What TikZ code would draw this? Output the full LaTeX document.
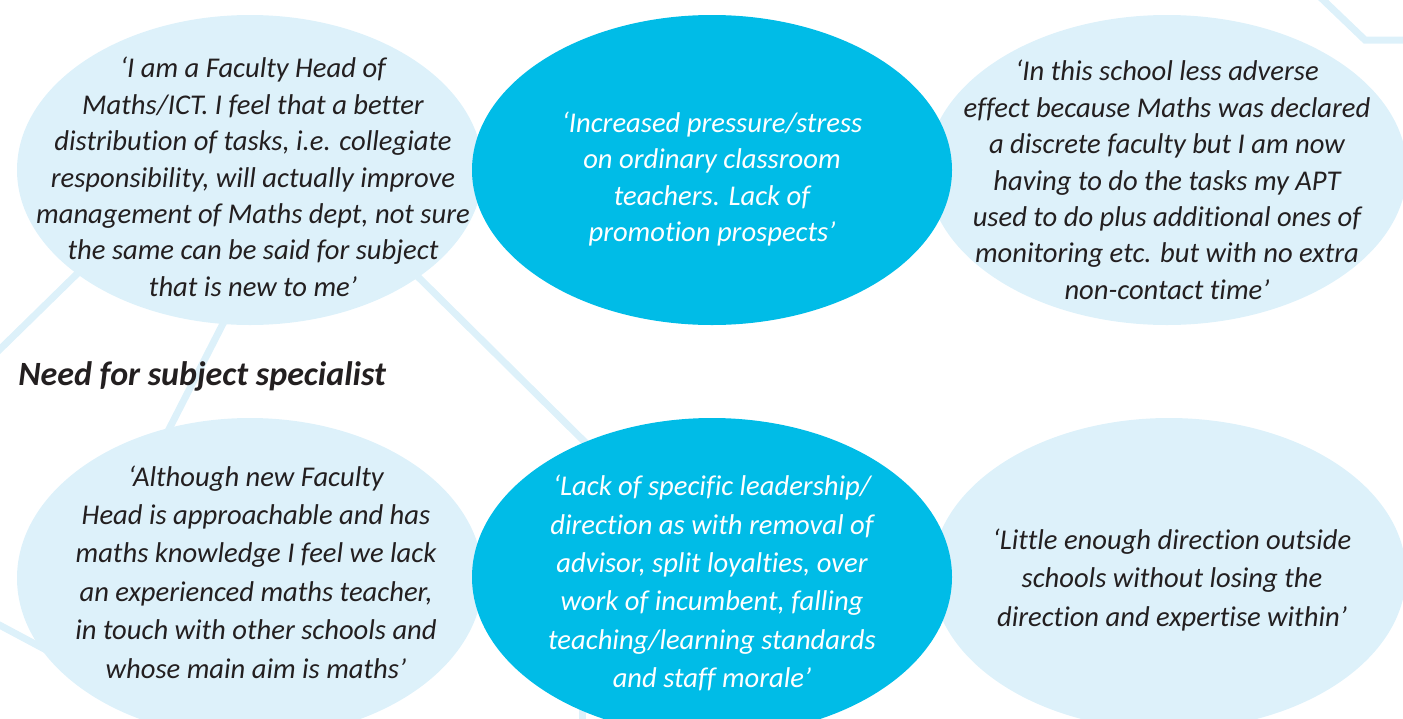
\documentclass[tikz,border=0pt]{standalone}
\usepackage{fontspec}
\setmainfont{Carlito}[Ligatures=NoCommon]
\usepackage{tikz}
\definecolor{pale}{HTML}{DDF1FA}
\definecolor{strong}{HTML}{00BCE7}
\definecolor{ink}{HTML}{231F20}
\tikzset{remark/.style={align=center, inner sep=0pt, text=ink,
   font=\fontsize{14.3}{#1}\selectfont\itshape},
remark/.default={18.2pt},
%white text on the strong blue
onblue/.style={text=white},
bgline/.style={pale, line width=3.5pt}}

\begin{document}
\begin{tikzpicture}[x=0.5pt,y=-0.5pt]
\useasboundingbox (0,0) rectangle (1403,718);
% centres of the six bubbles
\coordinate (tl) at (250,170);
\coordinate (tc) at (712,170);
\coordinate (tr) at (1167,170);
\coordinate (bl) at (250,578);
\coordinate (bc) at (712,577);
\coordinate (br) at (1169,574);

% background lines
\draw[bgline] (130,222) -- (-10,359);
\draw[bgline] (230,310) -- (165,437);
\draw[bgline] (400,259) -- (600,457);
\draw[bgline] (-10,620) -- (80,668);
\draw[bgline] (582,690) -- (582,725);
\draw[bgline] (1318,-5) -- (1365,40) -- (1410,40);

% bubbles
\fill[pale] (tl) ellipse [x radius=233, y radius=155];
\fill[pale] (tr) ellipse [x radius=240, y radius=155];
\fill[pale] (bl) ellipse [x radius=233, y radius=160];
\fill[pale] (br) ellipse [x radius=237, y radius=156];
\fill[strong] (tc) ellipse [x radius=240, y radius=155];
\fill[strong] (bc) ellipse [x radius=240, y radius=159];

%top row
\node[remark] (q1) at (253,177) {‘I am a Faculty Head of\\ Maths/ICT. I feel that a better\\
  distribution of tasks, i.e. collegiate\\ responsibility, will actually improve\\
  management of Maths dept, not sure\\ the same can be said for subject\\
  that is new to me’};
\node[remark,onblue] (q2) at (712,179) {‘Increased pressure/stress\\ on ordinary classroom\\
  teachers. Lack of\\ promotion prospects’};
\node[remark] (q3) at (1167,180) {‘In this school less adverse\\ effect because Maths was declared\\
  a discrete faculty but I am now\\ having to do the tasks my APT\\
  used to do plus additional ones of\\ monitoring etc. but with no extra\\
  non-contact time’};

\node[anchor=base west, inner sep=0pt, text=ink, font=\fontsize{17}{19}\selectfont\bfseries\itshape]
  (head) at (18,385) {Need for subject specialist};

%bottom row
\node[remark=19.2pt] (q4) at (256,572) {‘Although new Faculty\\ Head is approachable and has\\
  maths knowledge I feel we lack\\ an experienced maths teacher,\\
  in touch with other schools and\\ whose main aim is maths’};
\node[remark=19.2pt,onblue] (q5) at (712,583) {‘Lack of specific leadership/\\ direction as with removal of\\
  advisor, split loyalties, over\\ work of incumbent, falling\\
  teaching/learning standards\\ and staff morale’};
\node[remark=19.2pt] (q6) at (1172,580) {‘Little enough direction outside\\ schools without losing the\\
  direction and expertise within’};

\end{tikzpicture}
\end{document}
